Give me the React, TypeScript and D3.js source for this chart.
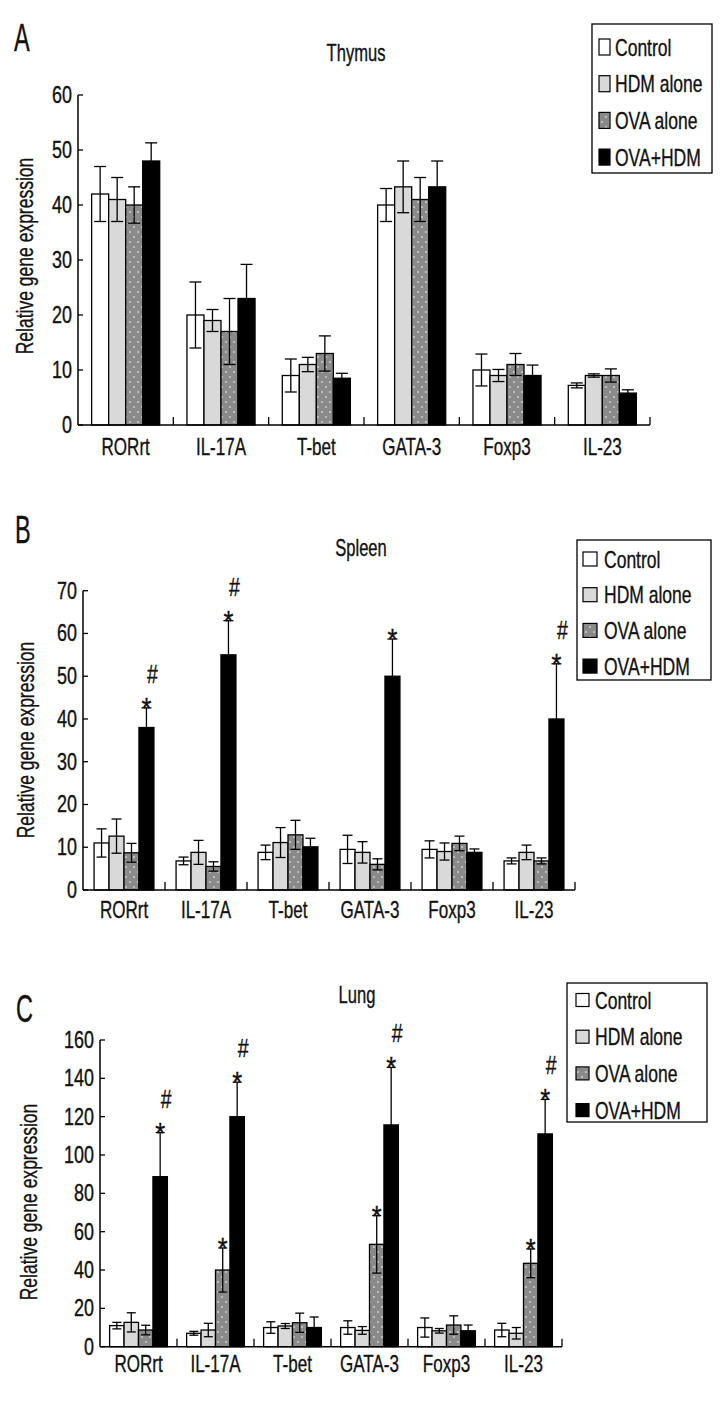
import React from "react";
import * as d3 from "d3";

const categories = ["RORrt", "IL-17A", "T-bet", "GATA-3", "Foxp3", "IL-23"];
const seriesNames = ["Control", "HDM alone", "OVA alone", "OVA+HDM"];

// [series][category]
const thymusMean = [
  [42, 20, 9, 40, 10, 7.2],
  [41, 19, 11, 43.3, 9, 9],
  [40, 17, 13, 41, 11, 9],
  [48, 23, 8.5, 43.3, 9, 5.8],
];
const thymusErr = [
  [5, 6, 3, 3, 2.9, 0.45],
  [4, 2, 1.3, 4.7, 1.1, 0.3],
  [3.3, 6, 3.2, 4, 2, 1.2],
  [3.3, 6.2, 0.9, 4.7, 1.9, 0.6],
];
const spleenMean = [
  [11, 6.8, 8.8, 9.5, 9.5, 6.8],
  [12.6, 8.8, 11.1, 8.8, 9, 8.8],
  [8.7, 5.5, 12.9, 6, 10.9, 6.8],
  [38, 55, 10.1, 50, 8.8, 40],
];
const spleenErr = [
  [3.3, 0.9, 1.7, 3.3, 2, 0.7],
  [4, 2.8, 3.5, 2.5, 2, 1.7],
  [2.2, 1.1, 3.4, 1.3, 1.7, 0.7],
  [4.6, 8, 2, 8.7, 0.8, 12.9],
];
const lungMean = [
  [11, 7, 10, 10, 10, 8.7],
  [12.7, 8.7, 10.8, 8.5, 8.3, 7],
  [8.7, 40, 12.5, 53.4, 11.3, 43.5],
  [88.7, 120, 10, 115.7, 8.3, 111],
];
const lungErr = [
  [1.7, 1, 3, 3.5, 5, 3.5],
  [5, 3.5, 1.3, 2, 1.2, 3],
  [2.5, 11.5, 5, 15, 4.8, 7.5],
  [23, 18, 5.5, 30, 3, 18],
];
// significance marks: [categoryIndex, seriesIndex, hasHash]
const spleenMarks: [number, number, boolean][] = [
  [0, 3, true], [1, 3, true], [3, 3, false], [5, 3, true],
];
const lungMarks: [number, number, boolean][] = [
  [0, 3, true], [1, 2, false], [1, 3, true], [3, 2, false], [3, 3, true], [5, 2, false], [5, 3, true],
];
const thymusTicks = [0, 10, 20, 30, 40, 50, 60];
const spleenTicks = [0, 10, 20, 30, 40, 50, 60, 70];
const lungTicks = [0, 20, 40, 60, 80, 100, 120, 140, 160];

const FONT = "'Liberation Sans', Arial, sans-serif";
const fills = ["#ffffff", "#d9d9d9", "url(#dots)", "#000000"];

function T({ x, y, fs, sx = 0.73, anchor = "start", rotate = 0, children }: any) {
  return (
    <text transform={`translate(${x},${y}) rotate(${rotate}) scale(${sx},1)`} fontSize={fs}
      textAnchor={anchor} fontFamily={FONT} fill="#111" stroke="#111" strokeWidth={0.35}>{children}</text>
  );
}

type Panel = {
  id: string; letter: string; title: string; means: number[][]; errs: number[][]; ticks: number[];
  marks: [number, number, boolean][];
  x0: number; x1: number; y0: number; yT: number; group: number; capW: number;
  letterPos: [number, number]; titlePos: [number, number]; ylab: [number, number]; catY: number;
  leg: { x: number; y: number; w: number; h: number; rows: number; step: number; swX: number; swW: number; swH: number; tx: number };
};

const panels: Panel[] = [
  {
    id: "A", letter: "A", title: "Thymus", means: thymusMean, errs: thymusErr, ticks: thymusTicks, marks: [],
    x0: 78, x1: 650, y0: 425, yT: 95, group: 0.714, capW: 12,
    letterPos: [14, 51], titlePos: [356, 61], ylab: [25, 256], catY: 455,
    leg: { x: 592, y: 24, w: 120, h: 149, rows: 47, step: 36.7, swX: 599, swW: 11, swH: 16, tx: 615 },
  },
  {
    id: "B", letter: "B", title: "Spleen", means: spleenMean, errs: spleenErr, ticks: spleenTicks, marks: spleenMarks,
    x0: 83, x1: 575, y0: 890, yT: 590.7, group: 0.73, capW: 10,
    letterPos: [15, 543], titlePos: [361, 556], ylab: [26, 740], catY: 918,
    leg: { x: 577, y: 540, w: 134, h: 140, rows: 559, step: 35.7, swX: 583, swW: 14, swH: 14, tx: 604 },
  },
  {
    id: "C", letter: "C", title: "Lung", means: lungMean, errs: lungErr, ticks: lungTicks, marks: lungMarks,
    x0: 100, x1: 562, y0: 1346.7, yT: 1040, group: 0.75, capW: 9,
    letterPos: [16, 1022], titlePos: [357, 1003], ylab: [29, 1202], catY: 1372,
    leg: { x: 567, y: 983, w: 140, h: 139, rows: 1000, step: 36.7, swX: 576, swW: 13, swH: 13, tx: 595 },
  },
];

function PanelView({ p }: { p: Panel }) {
  const maxV = p.ticks[p.ticks.length - 1];
  const y = d3.scaleLinear().domain([0, maxV]).range([p.y0, p.yT]);
  const pad = 1 - p.group;
  const xc = d3.scaleBand<string>().domain(categories).range([p.x0, p.x1]).paddingInner(pad).paddingOuter(pad / 2);
  const xs = d3.scaleBand<string>().domain(seriesNames).range([0, xc.bandwidth()]);
  const step = (p.x1 - p.x0) / categories.length;
  const bw = xs.bandwidth();
  return (
    <g>
      <T x={p.letterPos[0]} y={p.letterPos[1]} fs={38} sx={0.62}>{p.letter}</T>
      <T x={p.titlePos[0]} y={p.titlePos[1]} fs={23} sx={0.72} anchor="middle">{p.title}</T>
      <T x={p.ylab[0] + 8} y={p.ylab[1]} fs={24} sx={0.73} anchor="middle" rotate={-90}>Relative gene expression</T>
      {/* bars */}
      {seriesNames.map((s, si) => (
        <g key={s}>
          {categories.map((c, ci) => {
            const v = p.means[si][ci];
            const e = p.errs[si][ci];
            const bx = (xc(c) as number) + (xs(s) as number);
            const cx = bx + bw / 2;
            return (
              <g key={c}>
                <rect x={bx} y={y(v)} width={bw} height={p.y0 - y(v)} fill={fills[si]} stroke="#000" strokeWidth={1.3} />
                <line x1={cx} x2={cx} y1={y(v + e)} y2={y(Math.max(0, v - e))} stroke="#000" strokeWidth={1.3} />
                <line x1={cx - p.capW / 2} x2={cx + p.capW / 2} y1={y(v + e)} y2={y(v + e)} stroke="#000" strokeWidth={1.3} />
                <line x1={cx - p.capW / 2} x2={cx + p.capW / 2} y1={y(Math.max(0, v - e))} y2={y(Math.max(0, v - e))} stroke="#000" strokeWidth={1.3} />
              </g>
            );
          })}
        </g>
      ))}
      {/* significance marks */}
      {p.marks.map(([ci, si, hash], i) => {
        const c = categories[ci];
        const s = seriesNames[si];
        const cx = (xc(c) as number) + (xs(s) as number) + bw / 2;
        const top = y(p.means[si][ci] + p.errs[si][ci]);
        return (
          <g key={i}>
            <T x={cx} y={top + 10} fs={30} sx={0.85} anchor="middle">*</T>
            {hash && <T x={cx + 6} y={top - 25} fs={26} sx={0.75} anchor="middle">#</T>}
          </g>
        );
      })}
      {/* axes */}
      <line x1={p.x0} x2={p.x0} y1={p.yT} y2={p.y0} stroke="#000" strokeWidth={1.5} />
      <line x1={p.x0} x2={p.x1} y1={p.y0} y2={p.y0} stroke="#000" strokeWidth={1.5} />
      {p.ticks.map((t) => (
        <g key={t}>
          <line x1={p.x0} x2={p.x0 + 5} y1={y(t)} y2={y(t)} stroke="#000" strokeWidth={1.3} />
          <T x={p.x0 - 6} y={y(t) + 8} fs={23} sx={0.78} anchor="end">{t}</T>
        </g>
      ))}
      {categories.map((c, ci) => (
        <g key={c}>
          <line x1={p.x0 + step * (ci + 1)} x2={p.x0 + step * (ci + 1)} y1={p.y0} y2={p.y0 - 8} stroke="#000" strokeWidth={1.3} />
          <T x={(xc(c) as number) + xc.bandwidth() / 2} y={p.catY} fs={24} sx={0.71} anchor="middle">{c}</T>
        </g>
      ))}
      {/* legend */}
      <rect x={p.leg.x} y={p.leg.y} width={p.leg.w} height={p.leg.h} fill="#fff" stroke="#000" strokeWidth={1.3} />
      {seriesNames.map((s, si) => {
        const cy = p.leg.rows + si * p.leg.step;
        return (
          <g key={s}>
            <rect x={p.leg.swX} y={cy - p.leg.swH / 2} width={p.leg.swW} height={p.leg.swH} fill={fills[si]} stroke="#000" strokeWidth={1.2} />
            <T x={p.leg.tx} y={cy + 8.5} fs={24} sx={0.73}>{s}</T>
          </g>
        );
      })}
    </g>
  );
}

export default function App() {
  return (
    <svg width={720} height={1406} style={{ position: "absolute", left: 0, top: 0, background: "#fff" }}>
      <defs>
        <pattern id="dots" width={8} height={10} patternUnits="userSpaceOnUse">
          <rect width={8} height={10} fill="#8a8a8a" />
          <circle cx={2} cy={2} r={0.8} fill="#fff" />
          <circle cx={6} cy={7} r={0.8} fill="#fff" />
        </pattern>
      </defs>
      <rect width={720} height={1406} fill="#fff" />
      {panels.map((p) => <PanelView key={p.id} p={p} />)}
    </svg>
  );
}
